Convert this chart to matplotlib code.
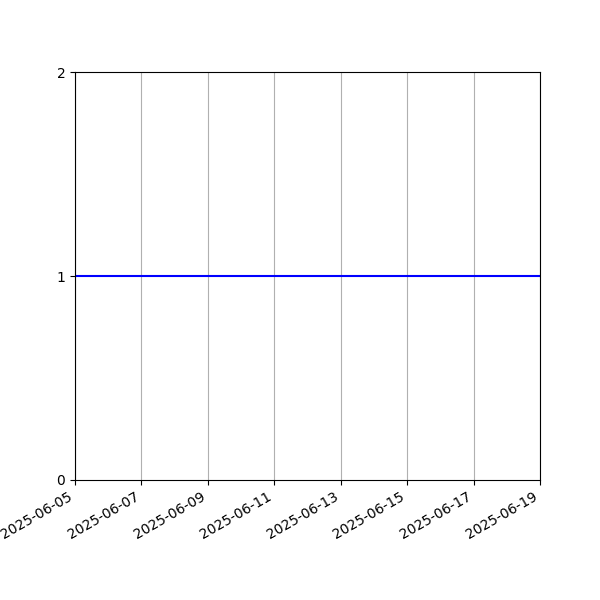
import datetime as dt
import matplotlib
matplotlib.use('Agg')
import matplotlib.pyplot as plt
import matplotlib.dates as mdates

start = dt.date(2025, 6, 5)
dates = [start + dt.timedelta(days=i) for i in range(15)]
values = [1, 1, 1, 1, 1, 1, 1, 1, 1, 1, 1, 1, 1, 1, 1]
y_ticks = [0, 1, 2]

fig, ax = plt.subplots(figsize=(6, 6), dpi=100)
ax.plot(dates, values, color='blue')
ax.set_xlim(dates[0], dates[-1])
ax.set_ylim(0, 2)
ax.set_yticks(y_ticks)
ax.xaxis.set_major_locator(mdates.DayLocator(interval=2))
ax.xaxis.set_major_formatter(mdates.DateFormatter('%Y-%m-%d'))
ax.grid(axis='x')
fig.autofmt_xdate()

plt.savefig('out.png')
plt.close()
